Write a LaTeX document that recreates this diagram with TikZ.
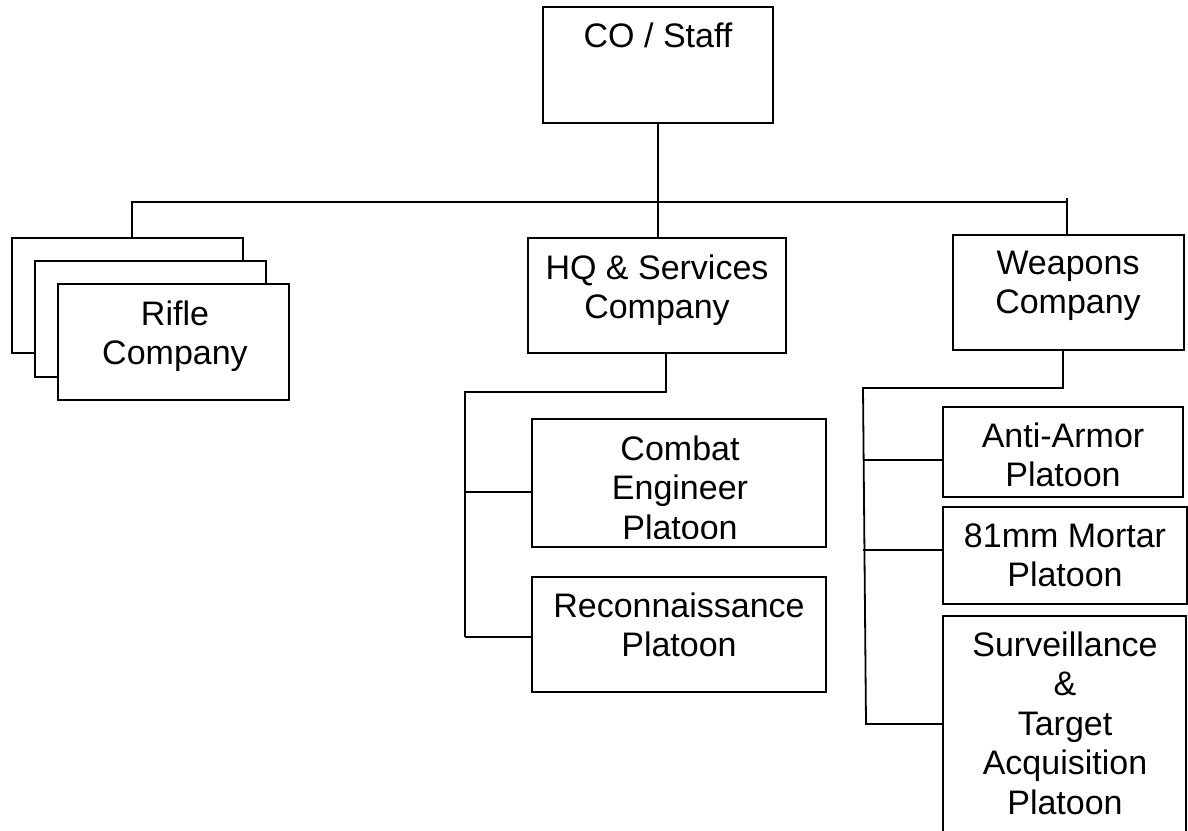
\documentclass[tikz,border=0pt]{standalone}
\usepackage{fontspec}
\setmainfont{Liberation Sans}
\newcommand\stacklines[1]{\begin{tabular}[t]{@{}c@{}}#1\end{tabular}}
\begin{document}
\begin{tikzpicture}[x=1pt,y=-1pt,line width=1.8pt,
  box/.style={draw,rectangle,inner sep=0pt,fill=white},
  lbl/.style={anchor=base,inner sep=0pt,font=\fontsize{34}{39.5}\selectfont}]
\useasboundingbox (0,0) rectangle (1188,830);
\clip (0,0) rectangle (1188,830);
% boxes
\node[box,minimum width=230,minimum height=116] (co) at (658,65) {};
\node[box,minimum width=258,minimum height=115] (hq) at (657,295.5) {};
\node[box,minimum width=231,minimum height=115] (wpn) at (1068.5,292.5) {};
\node[box,minimum width=231,minimum height=115] (rback) at (127.5,295.5) {};
\node[box,minimum width=231,minimum height=116] (rmid) at (150.5,319) {};
\node[box,minimum width=231,minimum height=116] (rfront) at (173.5,342) {};
\node[box,minimum width=294,minimum height=128] (ce) at (679,483) {};
\node[box,minimum width=294,minimum height=115] (rec) at (679,634.5) {};
\node[box,minimum width=240,minimum height=90] (aa) at (1063,452) {};
\node[box,minimum width=244,minimum height=97] (mor) at (1065,555.5) {};
\node[box,minimum width=243,minimum height=244] (sta) at (1064.5,738) {};
% texts
\node[lbl] (coT) at (658,47) {CO / Staff};
\node[lbl] (hqT) at (657,279) {\stacklines{HQ \& Services\\Company}};
\node[lbl] (wpnT) at (1068,274) {\stacklines{Weapons\\Company}};
\node[lbl] (rT) at (175,325) {\stacklines{Rifle\\Company}};
\begin{scope}
\clip (532,419) rectangle (826,538);
\node[lbl] (ceT) at (680,460) {\stacklines{Combat\\Engineer\\Platoon}};
\end{scope}
\node[lbl] (recT) at (679,617) {\stacklines{Reconnaissance\\Platoon}};
\node[lbl] (aaT) at (1063,447) {\stacklines{Anti-Armor\\Platoon}};
\node[lbl] (morT) at (1065,547) {\stacklines{81mm Mortar\\Platoon}};
\node[lbl] (staT) at (1065,656) {\stacklines{Surveillance\\\&\\Target\\Acquisition\\Platoon}};
% connectors
\coordinate (busL) at (132,202);
\coordinate (busR) at (1067,202);
\coordinate (busTop) at (1067,198);
\draw (co.south) -- (co.south |- busL);
\draw (busL |- rback.north) -- (busL) -- (busR);
\draw (busTop) -- (busTop |- wpn.north);
\draw (co.south |- busL) -- (co.south |- hq.north);
% HQ branch
\coordinate (hqD) at (666,392);
\coordinate (hqBus) at (465,392);
\draw (hqD |- hq.south) -- (hqD) -- (hqBus) -- (465,637);
\draw (465,492) -- (ce.west |- 0,492);
\draw (465,637) -- (rec.west |- 0,637);
% Weapons branch
\coordinate (wD) at (1063,388);
\coordinate (wBus) at (863,388);
\draw (wD |- wpn.south) -- (wD) -- (wBus) -- (866,724);
\draw (863,460) -- (aa.west |- 0,460);
\draw (863,550) -- (mor.west |- 0,550);
\draw (865,724) -- (sta.west |- 0,724);
\end{tikzpicture}
\end{document}
